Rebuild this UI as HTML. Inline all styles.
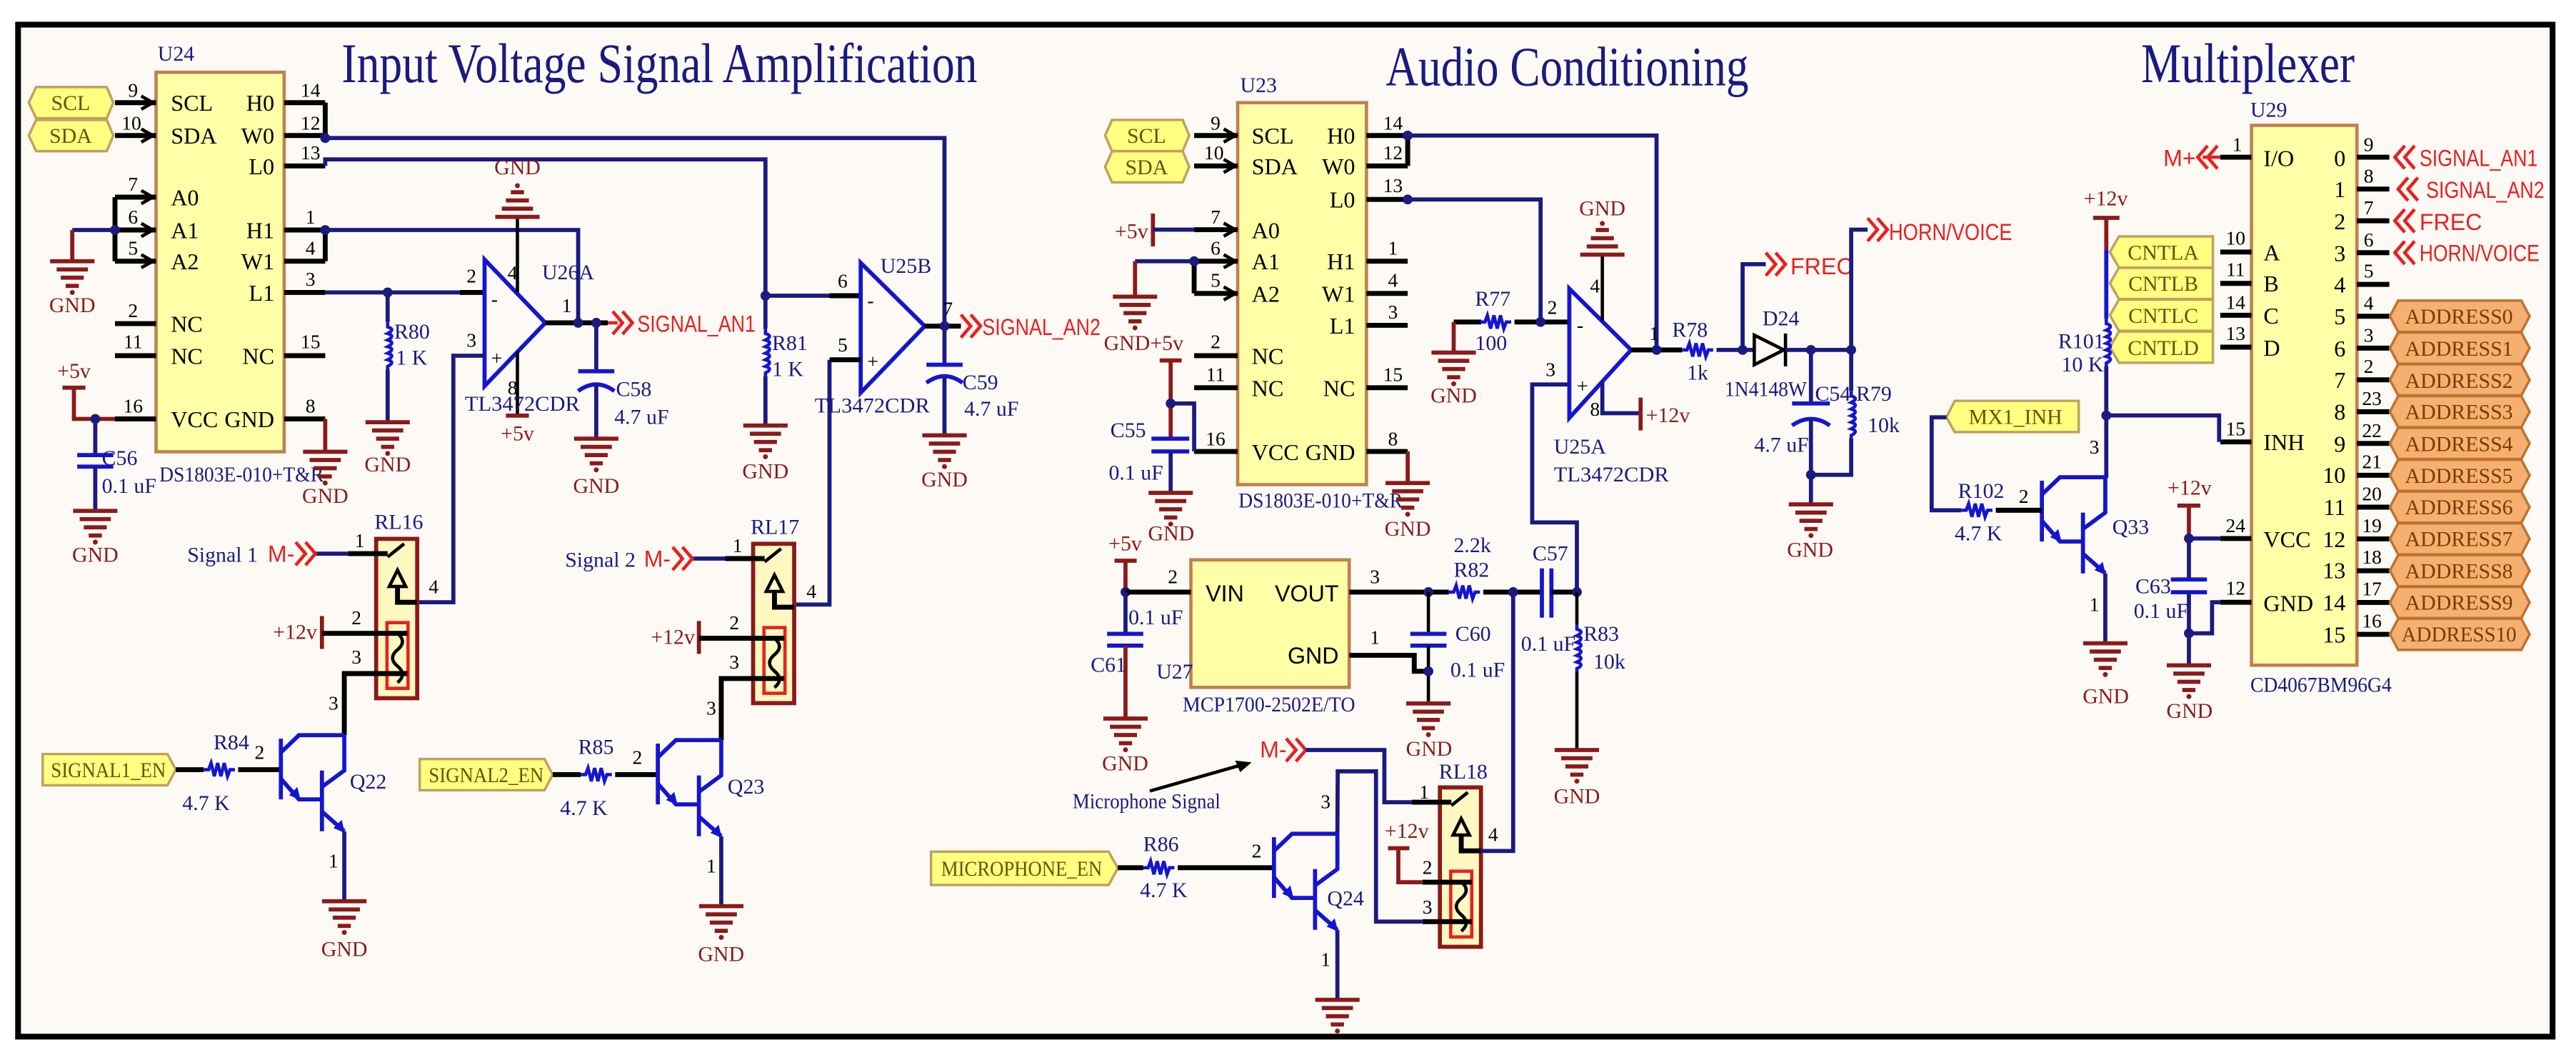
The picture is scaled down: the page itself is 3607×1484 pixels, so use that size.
<!DOCTYPE html>
<html><head><meta charset="utf-8"><style>
html,body{margin:0;padding:0;background:#fff}
svg{display:block}
text{font-family:"Liberation Serif",serif}
.t{fill:#1a1a80;font-size:13px}
.r{fill:#8b1a1a;font-size:13px}
.pn{fill:#000;font-size:12px}
.nm{fill:#000;font-size:14px;font-family:"Liberation Sans",sans-serif}
.rd{fill:#e82020;font-size:14px;font-family:"Liberation Sans",sans-serif}
.pt{fill:#6a5000;font-size:13px}
.ti{fill:#1a1a80;font-size:34px}
.w{stroke:#1a1a80;stroke-width:2.5;fill:none}
.p{stroke:#000;stroke-width:3;fill:none}
.k{stroke:#000;stroke-width:2;fill:none}
.dr{stroke:#8b1a1a;stroke-width:2.5;fill:none}
.b{stroke:#1515d0;stroke-width:2.5;fill:none}
.rl{stroke:#e82020;stroke-width:2;fill:none}
.chip{fill:#ffffa8;stroke:#c08050;stroke-width:2}
.port{fill:#ffff80;stroke:#c0a060;stroke-width:1.5}
.addr{fill:#f4b070;stroke:#c07030;stroke-width:1.5}
</style></head><body>
<svg width="3607" height="1484" viewBox="0 0 1568.26 645.22" preserveAspectRatio="none" xmlns="http://www.w3.org/2000/svg">
<defs>
<g id="gnd"><g stroke="#8b1a1a" stroke-width="2.5"><line x1="-13.5" y1="0" x2="13.5" y2="0"/><line x1="-9.5" y1="5" x2="9.5" y2="5"/><line x1="-7" y1="10" x2="7" y2="10"/><line x1="-4" y1="15" x2="4" y2="15"/></g><circle cx="0" cy="19" r="1.5" fill="#8b1a1a"/></g>
<g id="rv"><path d="M0 0 v3 q5 1.5 0 4 q5 1.5 0 4 q5 1.5 0 4 q5 1.5 0 4 q5 1.5 0 4 q5 1.5 0 4 v3" stroke="#1515d0" stroke-width="2" fill="none"/></g>
<g id="rh"><path d="M0 0 h3 l1.5 -4 l2 8 l2 -8 l2 8 l2 -8 l2 8 l1.5 -4 h3" stroke="#1515d0" stroke-width="2" fill="none"/></g>
<g id="chev"><polyline points="0,-7 6,0 0,7" class="rl"/><polyline points="6,-7 12,0 6,7" class="rl"/></g>
<g id="dot"><circle r="3" fill="#1a1a80"/></g>
<g id="relay">
<rect x="0" y="0" width="25" height="97" fill="#fff8c0" stroke="#8b1a1a" stroke-width="2.5"/>
<line x1="-17" y1="9" x2="7" y2="9" class="p"/>
<line x1="7" y1="11" x2="17" y2="3" class="k"/>
<polygon points="8,29 18,29 13,19" fill="none" stroke="#000" stroke-width="2"/>
<polyline points="13,29 13,38.6 25,38.6" class="p"/>
<rect x="6.6" y="51" width="12.8" height="40" class="rl" stroke-width="2.5"/>
<path d="M13 57.5 q6 5 0 10 M13 67.5 q-6 5 0 10 M13 77.5 q6 5 0 10" class="k" stroke-width="1.5"/>
</g>
<g id="tr">
<line x1="171" y1="449.6" x2="171" y2="486.6" class="b" stroke-width="3"/>
<polyline points="171,458 182,447.5 209.6,447.5" class="b"/>
<polyline points="171,474 182,486.6 196,486.6" class="b"/>
<polygon points="183,487 176,484 181,479" fill="#1515d0"/>
<line x1="196" y1="469" x2="196" y2="506" class="b" stroke-width="3"/>
<polyline points="196,479 209.6,469 209.6,447.5" class="b"/>
<line x1="196" y1="494" x2="209.6" y2="506" class="b"/>
<polygon points="210,507 203,504 208,499" fill="#1515d0"/>
<line x1="209.6" y1="506" x2="209.6" y2="548.6" class="w"/>
<use href="#gnd" x="209.6" y="548.6"/>
</g>
<g id="rt1">
<line x1="192" y1="337" x2="212" y2="337" class="w"/>
<use href="#chev" x="180" y="337"/>
<use href="#relay" x="229" y="328"/>
<line x1="196" y1="375" x2="196" y2="395" class="dr" stroke-width="3"/>
<line x1="196" y1="385.5" x2="248" y2="385.5" class="p"/>
<polyline points="209.6,447.5 209.6,410 248,410" class="p"/>
<polygon points="26,459 102,459 107,468.5 102,478 26,478" class="port"/>
<line x1="107" y1="468.5" x2="124" y2="468.5" class="p"/>
<use href="#rh" x="124" y="468.5"/>
<line x1="145" y1="468.5" x2="171" y2="468.5" class="p"/>
<use href="#tr"/>
</g>
</defs>

<rect x="11" y="15" width="1543" height="616" fill="#fdfaf5" stroke="#000" stroke-width="3.5"/>

<text x="208" y="50" class="ti" textLength="387" lengthAdjust="spacingAndGlyphs">Input Voltage Signal Amplification</text>
<text x="843.6" y="52" class="ti" textLength="221" lengthAdjust="spacingAndGlyphs">Audio Conditioning</text>
<text x="1303.5" y="50" class="ti" textLength="130" lengthAdjust="spacingAndGlyphs">Multiplexer</text>

<!-- ===== Section 1: U24 ===== -->
<rect x="95" y="44" width="78" height="231" class="chip"/>
<text x="96" y="37" class="t" font-size="12">U24</text>
<g class="p">
<line x1="70" y1="62.5" x2="95" y2="62.5"/><line x1="70" y1="82.5" x2="95" y2="82.5"/>
<line x1="70" y1="120" x2="95" y2="120"/><line x1="70" y1="140" x2="95" y2="140"/><line x1="70" y1="159" x2="95" y2="159"/>
<line x1="70" y1="197" x2="95" y2="197"/><line x1="70" y1="216.5" x2="95" y2="216.5"/><line x1="70" y1="255" x2="95" y2="255"/>
<line x1="173" y1="62.5" x2="198" y2="62.5"/><line x1="173" y1="82.5" x2="198" y2="82.5"/><line x1="173" y1="101" x2="198" y2="101"/>
<line x1="173" y1="140" x2="198" y2="140"/><line x1="173" y1="159" x2="198" y2="159"/><line x1="173" y1="178" x2="198" y2="178"/>
<line x1="173" y1="216.5" x2="198" y2="216.5"/><line x1="173" y1="255" x2="198" y2="255"/>
<line x1="198" y1="62.5" x2="198" y2="82.5"/><line x1="198" y1="140" x2="198" y2="159"/>
<line x1="70" y1="120" x2="70" y2="159"/>
</g>
<g class="k" stroke-width="1.3"><polyline points="86,58.5 93,62.5 86,66.5"/><polyline points="86,78.5 93,82.5 86,86.5"/><polyline points="86,116 93,120 86,124"/><polyline points="86,136 93,140 86,144"/><polyline points="86,155 93,159 86,163"/></g>
<g class="nm"><text x="104" y="67.5">SCL</text><text x="104" y="87.5">SDA</text><text x="104" y="125">A0</text><text x="104" y="145">A1</text><text x="104" y="164">A2</text><text x="104" y="202">NC</text><text x="104" y="221.5">NC</text><text x="104" y="260">VCC</text></g>
<g class="nm" text-anchor="end"><text x="167" y="67.5">H0</text><text x="167" y="87.5">W0</text><text x="167" y="106">L0</text><text x="167" y="145">H1</text><text x="167" y="164">W1</text><text x="167" y="183">L1</text><text x="167" y="221.5">NC</text><text x="167" y="260">GND</text></g>
<g class="pn" text-anchor="middle"><text x="81" y="59">9</text><text x="80" y="79">10</text><text x="81" y="116">7</text><text x="81" y="136">6</text><text x="81" y="155">5</text><text x="81" y="193">2</text><text x="81" y="212">11</text><text x="81" y="251">16</text>
<text x="189" y="59">14</text><text x="189" y="79">12</text><text x="189" y="97">13</text><text x="189" y="136">1</text><text x="189" y="155">4</text><text x="189" y="174">3</text><text x="189" y="212">15</text><text x="189" y="251">8</text></g>
<polygon points="17.5,62.5 22,53 65,53 69,62.5 65,72 22,72" class="port"/>
<polygon points="17.5,82.5 22,73 65,73 69,82.5 65,92 22,92" class="port"/>
<text x="43" y="67" class="pt" text-anchor="middle">SCL</text><text x="43" y="87" class="pt" text-anchor="middle">SDA</text>
<text x="97" y="293" class="t" font-size="12" textLength="100" lengthAdjust="spacingAndGlyphs">DS1803E-010+T&amp;R</text>

<polyline points="198,84 575,84 575,198" class="w"/>
<polyline points="198,101 198,97 466,97 466,200" class="w"/>
<use href="#rv" x="466" y="200"/>
<line x1="466" y1="229" x2="466" y2="259" class="w"/>
<use href="#gnd" x="466" y="259"/>
<polyline points="466,180 505,180" class="w"/><line x1="505" y1="180" x2="524" y2="180" class="p"/>
<use href="#dot" x="466" y="180"/>
<polyline points="70,140 44,140" class="w"/><line x1="44" y1="140" x2="44" y2="159" class="dr"/>
<use href="#gnd" x="44" y="159"/><text x="44" y="190" class="r" text-anchor="middle">GND</text>
<use href="#dot" x="70" y="140"/>
<use href="#dot" x="198" y="84"/><use href="#dot" x="198" y="140"/>
<polyline points="198,140 352,140 352,196" class="w"/>
<line x1="198" y1="178" x2="280" y2="178" class="w"/><line x1="280" y1="178" x2="295" y2="178" class="p"/>
<use href="#dot" x="236" y="178"/>
<line x1="236" y1="178" x2="236" y2="196" class="w"/><use href="#rv" x="236" y="196"/><line x1="236" y1="225" x2="236" y2="257" class="w"/>
<use href="#gnd" x="236" y="257"/><text x="236" y="287" class="r" text-anchor="middle">GND</text>
<text x="240" y="206" class="t">R80</text><text x="241" y="222" class="t">1 K</text>
<polygon points="295,158 295,235 332,196.5" class="b" fill="none"/>
<text x="299" y="186" class="pn" font-size="14">-</text><text x="299" y="222" class="pn" font-size="14">+</text>
<polyline points="315,178 315,132" class="k"/>
<g stroke="#8b1a1a" stroke-width="2.5"><line x1="301.5" y1="132" x2="328.5" y2="132"/><line x1="305.5" y1="127" x2="324.5" y2="127"/><line x1="308" y1="122" x2="322" y2="122"/><line x1="311" y1="117" x2="319" y2="117"/></g>
<circle cx="315" cy="113" r="1.5" fill="#8b1a1a"/>
<text x="315" y="106" class="r" text-anchor="middle">GND</text>
<polyline points="315,214 315,253" class="k"/><line x1="308" y1="253" x2="322" y2="253" class="dr" stroke-width="3"/>
<text x="315" y="268" class="r" text-anchor="middle">+5v</text>
<text x="284" y="172" class="pn">2</text><text x="284" y="211" class="pn">3</text><text x="342" y="190" class="pn">1</text><text x="309" y="170" class="pn" font-size="10">4</text><text x="309" y="240" class="pn" font-size="10">8</text>
<text x="330" y="170" class="t">U26A</text><text x="283" y="250" class="t" textLength="70" lengthAdjust="spacingAndGlyphs">TL3472CDR</text>
<line x1="332" y1="196.5" x2="370" y2="196.5" class="p"/>
<use href="#dot" x="352" y="196.5"/><use href="#dot" x="363" y="196.5"/>
<line x1="370" y1="196.5" x2="376" y2="196.5" class="rl"/>
<use href="#chev" x="373" y="196.5"/><text x="388" y="202" class="rd" textLength="72" lengthAdjust="spacingAndGlyphs">SIGNAL_AN1</text>
<line x1="363" y1="196.5" x2="363" y2="226" class="w"/>
<line x1="352" y1="226" x2="374" y2="226" class="b" stroke-width="3"/>
<path d="M352 238 q11 -8 22 0" class="b" stroke-width="3"/>
<line x1="363" y1="234" x2="363" y2="267" class="w"/>
<use href="#gnd" x="363" y="267"/><text x="363" y="300" class="r" text-anchor="middle">GND</text>
<text x="375" y="241" class="t">C58</text><text x="374" y="258" class="t">4.7 uF</text>
<polyline points="295,216.5 276,216.5 276,366.6 254,366.6" class="w"/>
<polygon points="524,160 524,239 563,198.5" class="b" fill="none"/>
<text x="528" y="187" class="pn" font-size="14">-</text><text x="528" y="224" class="pn" font-size="14">+</text>
<text x="510" y="175" class="pn">6</text><text x="510" y="214" class="pn">5</text><text x="574" y="192" class="pn">7</text>
<text x="536" y="166" class="t">U25B</text><text x="496" y="251" class="t" textLength="70" lengthAdjust="spacingAndGlyphs">TL3472CDR</text>
<text x="470" y="213" class="t">R81</text><text x="470" y="229" class="t">1 K</text>
<text x="466" y="291" class="r" text-anchor="middle">GND</text>
<line x1="563" y1="198.5" x2="585" y2="198.5" class="p"/><use href="#dot" x="575" y="198.5"/>
<use href="#chev" x="585" y="198.5"/><text x="598" y="204" class="rd" textLength="72" lengthAdjust="spacingAndGlyphs">SIGNAL_AN2</text>
<line x1="575" y1="198.5" x2="575" y2="222" class="w"/>
<line x1="564" y1="222" x2="586" y2="222" class="b" stroke-width="3"/>
<path d="M564 233 q11 -8 22 0" class="b" stroke-width="3"/>
<line x1="575" y1="229" x2="575" y2="265" class="w"/>
<use href="#gnd" x="575" y="265"/><text x="575" y="296" class="r" text-anchor="middle">GND</text>
<text x="586" y="237" class="t">C59</text><text x="587" y="253" class="t">4.7 uF</text>
<polyline points="505,219 505,368 484,368" class="w"/><line x1="505" y1="219" x2="524" y2="219" class="p"/>
<polyline points="198,255 198,275" class="dr"/><use href="#gnd" x="198" y="275"/><text x="198" y="306" class="r" text-anchor="middle">GND</text>
<line x1="38" y1="236" x2="52" y2="236" class="dr" stroke-width="3"/><polyline points="45,236 45,255 70,255" class="dr"/>
<use href="#dot" x="58" y="255"/>
<text x="45" y="230" class="r" text-anchor="middle">+5v</text>
<line x1="58" y1="255" x2="58" y2="277" class="w"/>
<line x1="47" y1="277" x2="69" y2="277" class="b" stroke-width="3"/><line x1="47" y1="284" x2="69" y2="284" class="b" stroke-width="3"/>
<line x1="58" y1="284" x2="58" y2="311" class="w"/><use href="#gnd" x="58" y="311"/><text x="58" y="342" class="r" text-anchor="middle">GND</text>
<text x="62" y="283" class="t">C56</text><text x="62" y="300" class="t">0.1 uF</text>

<use href="#rt1"/>
<use href="#rt1" transform="translate(229.5,3)"/>
<text x="114" y="342" class="t">Signal 1</text><text x="163" y="342" class="rd" font-size="13">M-</text>
<text x="228" y="322" class="t">RL16</text>
<text x="216" y="333" class="pn">1</text><text x="261" y="361" class="pn">4</text><text x="214" y="380" class="pn">2</text><text x="214" y="404" class="pn">3</text>
<text x="193" y="389" class="r" text-anchor="end">+12v</text>
<text x="200" y="432" class="pn">3</text><text x="200" y="528" class="pn">1</text><text x="155" y="462" class="pn" font-size="14">2</text>
<text x="130" y="456" class="t">R84</text><text x="111" y="493" class="t">4.7 K</text>
<text x="213" y="480" class="t">Q22</text>
<text x="66" y="473" class="pt" text-anchor="middle" textLength="70" lengthAdjust="spacingAndGlyphs">SIGNAL1_EN</text>
<text x="209.6" y="582" class="r" text-anchor="middle">GND</text>
<text x="344" y="345" class="t">Signal 2</text><text x="392" y="345" class="rd" font-size="13">M-</text>
<text x="457" y="325" class="t">RL17</text>
<text x="446" y="336" class="pn">1</text><text x="491" y="364" class="pn">4</text><text x="444" y="383" class="pn">2</text><text x="444" y="407" class="pn">3</text>
<text x="423" y="392" class="r" text-anchor="end">+12v</text>
<text x="430" y="435" class="pn">3</text><text x="430" y="531" class="pn">1</text><text x="385" y="465" class="pn" font-size="14">2</text>
<text x="352" y="459" class="t">R85</text><text x="341" y="496" class="t">4.7 K</text>
<text x="443" y="483" class="t">Q23</text>
<text x="296" y="476" class="pt" text-anchor="middle" textLength="70" lengthAdjust="spacingAndGlyphs">SIGNAL2_EN</text>
<text x="439" y="585" class="r" text-anchor="middle">GND</text>

<!-- ===== Section 2: U23 ===== -->
<rect x="753.5" y="62.5" width="78.4" height="232.5" class="chip"/>
<text x="755" y="56" class="t" font-size="12">U23</text>
<g class="p">
<line x1="727" y1="82.5" x2="753.5" y2="82.5"/><line x1="727" y1="101" x2="753.5" y2="101"/>
<line x1="727" y1="139.8" x2="753.5" y2="139.8"/><line x1="727" y1="159" x2="753.5" y2="159"/><line x1="727" y1="178.6" x2="753.5" y2="178.6"/>
<line x1="727" y1="216.5" x2="753.5" y2="216.5"/><line x1="727" y1="236" x2="753.5" y2="236"/><line x1="727" y1="274.8" x2="753.5" y2="274.8"/>
<line x1="831.9" y1="82.5" x2="857" y2="82.5"/><line x1="831.9" y1="101" x2="857" y2="101"/><line x1="831.9" y1="121.4" x2="857" y2="121.4"/>
<line x1="831.9" y1="159" x2="857" y2="159"/><line x1="831.9" y1="178.6" x2="857" y2="178.6"/><line x1="831.9" y1="198" x2="857" y2="198"/>
<line x1="831.9" y1="236" x2="857" y2="236"/><line x1="831.9" y1="274.8" x2="857" y2="274.8"/>
<line x1="857" y1="82.5" x2="857" y2="101"/><line x1="727" y1="159" x2="727" y2="178.6"/>
</g>
<g class="k" stroke-width="1.3"><polyline points="745,78.5 752,82.5 745,86.5"/><polyline points="745,97 752,101 745,105"/><polyline points="745,135.8 752,139.8 745,143.8"/><polyline points="745,155 752,159 745,163"/><polyline points="745,174.6 752,178.6 745,182.6"/></g>
<g class="nm"><text x="762" y="87.5">SCL</text><text x="762" y="106">SDA</text><text x="762" y="145">A0</text><text x="762" y="164">A1</text><text x="762" y="183.6">A2</text><text x="762" y="221.5">NC</text><text x="762" y="241">NC</text><text x="762" y="280">VCC</text></g>
<g class="nm" text-anchor="end"><text x="825" y="87.5">H0</text><text x="825" y="106">W0</text><text x="825" y="126.4">L0</text><text x="825" y="164">H1</text><text x="825" y="183.6">W1</text><text x="825" y="203">L1</text><text x="825" y="241">NC</text><text x="825" y="280">GND</text></g>
<g class="pn" text-anchor="middle"><text x="740" y="79">9</text><text x="739" y="97">10</text><text x="740" y="136">7</text><text x="740" y="155">6</text><text x="740" y="174.6">5</text><text x="740" y="212">2</text><text x="740" y="232">11</text><text x="740" y="271">16</text>
<text x="848" y="79">14</text><text x="848" y="97">12</text><text x="848" y="117">13</text><text x="848" y="155">1</text><text x="848" y="174.6">4</text><text x="848" y="194">3</text><text x="848" y="232">15</text><text x="848" y="271">8</text></g>
<polygon points="672.8,82.5 677,73 720,73 724,82.5 720,92 677,92" class="port"/>
<polygon points="672.8,101.5 677,92 720,92 724,101.5 720,111 677,111" class="port"/>
<text x="698" y="87" class="pt" text-anchor="middle">SCL</text><text x="698" y="106" class="pt" text-anchor="middle">SDA</text>
<text x="754" y="309" class="t" font-size="12" textLength="100" lengthAdjust="spacingAndGlyphs">DS1803E-010+T&amp;R</text>
<use href="#dot" x="857" y="82.5"/><polyline points="857,82.5 1008.5,82.5 1008.5,213" class="w"/>
<use href="#dot" x="857" y="121.4"/><polyline points="857,121.4 937.9,121.4 937.9,196" class="w"/>
<line x1="701.9" y1="130" x2="701.9" y2="150" class="dr" stroke-width="3"/><line x1="701.9" y1="139.8" x2="727" y2="139.8" class="w"/>
<text x="699" y="145" class="r" text-anchor="end">+5v</text>
<use href="#dot" x="727" y="159"/><polyline points="727,159 691,159" class="w"/><line x1="691" y1="159" x2="691" y2="180.6" class="dr"/>
<use href="#gnd" x="691" y="180.6"/>
<text x="672" y="213" class="r">GND+5v</text>
<line x1="706" y1="219.4" x2="719.4" y2="219.4" class="dr" stroke-width="3"/>
<line x1="712.7" y1="219.4" x2="712.7" y2="267" class="dr"/>
<use href="#dot" x="712.7" y="245.6"/><polyline points="712.7,245.6 727,245.6 727,274.8" class="w"/>
<line x1="701" y1="267" x2="724" y2="267" class="b" stroke-width="3"/><line x1="701" y1="274.8" x2="724" y2="274.8" class="b" stroke-width="3"/>
<line x1="712.7" y1="274.8" x2="712.7" y2="300" class="w"/><use href="#gnd" x="712.7" y="300"/>
<text x="713" y="329" class="r" text-anchor="middle">GND</text>
<text x="676" y="266" class="t">C55</text><text x="675" y="292" class="t">0.1 uF</text>
<line x1="857" y1="274.8" x2="857" y2="294" class="dr"/><use href="#gnd" x="857" y="294"/>
<text x="857" y="326" class="r" text-anchor="middle">GND</text>
<line x1="885" y1="196" x2="901.8" y2="196" class="p"/><use href="#rh" x="901" y="196"/>
<line x1="922" y1="196" x2="955.4" y2="196" class="p"/><use href="#dot" x="937.9" y="196"/>
<line x1="885" y1="196" x2="885" y2="214.6" class="dr"/><use href="#gnd" x="885" y="214.6"/>
<text x="885" y="245" class="r" text-anchor="middle">GND</text>
<text x="898" y="186" class="t">R77</text><text x="898" y="213" class="t">100</text>
<polygon points="955.4,175.7 955.4,254.4 993,213" class="b" fill="none"/>
<text x="960" y="202" class="pn" font-size="14">-</text><text x="960" y="239" class="pn" font-size="14">+</text>
<text x="942" y="191" class="pn">2</text><text x="941" y="229" class="pn">3</text><text x="1004" y="207" class="pn">1</text><text x="968" y="178" class="pn" font-size="10">4</text><text x="968" y="253" class="pn" font-size="10">8</text>
<line x1="975.5" y1="195" x2="975.5" y2="155" class="k"/>
<g stroke="#8b1a1a" stroke-width="2.5"><line x1="962" y1="155" x2="989" y2="155"/><line x1="966" y1="150" x2="985" y2="150"/><line x1="968.5" y1="145" x2="982.5" y2="145"/><line x1="971.5" y1="140" x2="979.5" y2="140"/></g>
<circle cx="975.5" cy="136" r="1.5" fill="#8b1a1a"/>
<text x="975.5" y="131" class="r" text-anchor="middle">GND</text>
<polyline points="975.5,233 975.5,251.5 998.8,251.5" class="w"/><line x1="998.8" y1="242" x2="998.8" y2="262" class="dr" stroke-width="3"/>
<text x="1002" y="257" class="r">+12v</text>
<text x="946" y="276" class="t">U25A</text><text x="946" y="293" class="t" textLength="70" lengthAdjust="spacingAndGlyphs">TL3472CDR</text>
<polyline points="955.4,234 932.8,234 932.8,318 960,318 960,360.4" class="w"/>
<line x1="993" y1="213" x2="1024" y2="213" class="p"/><use href="#dot" x="1008.5" y="213"/>
<use href="#rh" x="1024" y="213"/>
<line x1="1045" y1="213" x2="1068" y2="213" class="w"/><use href="#dot" x="1060.9" y="213"/>
<polyline points="1060.9,213 1060.9,160.8 1075,160.8" class="w"/>
<use href="#chev" x="1075" y="160.8"/><text x="1090" y="167" class="rd">FREC</text>
<polygon points="1068,204 1068,222 1086,213" fill="none" stroke="#000" stroke-width="2"/>
<line x1="1087" y1="203" x2="1087" y2="223" class="k" stroke-width="2.5"/>
<line x1="1087" y1="213" x2="1127" y2="213" class="w"/>
<use href="#dot" x="1102.5" y="213"/><use href="#dot" x="1127" y="213"/>
<polyline points="1127,213 1127,139.8 1137,139.8" class="w"/>
<use href="#chev" x="1137" y="139.8"/><text x="1150" y="146" class="rd" textLength="75" lengthAdjust="spacingAndGlyphs">HORN/VOICE</text>
<line x1="1102.5" y1="213" x2="1102.5" y2="245.6" class="w"/>
<line x1="1091" y1="245.6" x2="1114" y2="245.6" class="b" stroke-width="3"/>
<path d="M1091 259 q11.5 -8 23 0" class="b" stroke-width="3"/>
<line x1="1102.5" y1="255" x2="1102.5" y2="307" class="w"/>
<line x1="1127" y1="213" x2="1127" y2="238" class="w"/><use href="#rv" x="1127" y="238"/>
<polyline points="1127,267 1127,289 1102.5,289" class="w"/><use href="#dot" x="1102.5" y="289"/>
<use href="#gnd" x="1102.5" y="307"/><text x="1102" y="339" class="r" text-anchor="middle">GND</text>
<text x="1018" y="205" class="t">R78</text><text x="1027" y="231" class="t">1k</text>
<text x="1073" y="198" class="t">D24</text><text x="1050" y="241" class="t" textLength="50" lengthAdjust="spacingAndGlyphs">1N4148W</text>
<text x="1105" y="244" class="t">C54</text><text x="1068" y="275" class="t">4.7 uF</text>
<text x="1130" y="244" class="t">R79</text><text x="1137" y="263" class="t">10k</text>
<rect x="725" y="340.8" width="96.4" height="77.6" class="chip"/>
<text x="734" y="366" class="nm">VIN</text><text x="815" y="366" class="nm" text-anchor="end">VOUT</text><text x="815" y="404" class="nm" text-anchor="end">GND</text>
<text x="711" y="355" class="pn">2</text><text x="834" y="355" class="pn">3</text><text x="834" y="392" class="pn">1</text>
<line x1="678.5" y1="341.3" x2="692" y2="341.3" class="dr" stroke-width="3"/>
<line x1="685.2" y1="341.3" x2="685.2" y2="360.4" class="dr"/>
<use href="#dot" x="685.2" y="360.4"/><line x1="685.2" y1="360.4" x2="725" y2="360.4" class="p"/>
<line x1="685.2" y1="360.4" x2="685.2" y2="385.8" class="w"/>
<line x1="674" y1="385.8" x2="696" y2="385.8" class="b" stroke-width="3"/><line x1="674" y1="393" x2="696" y2="393" class="b" stroke-width="3"/>
<line x1="685.2" y1="393" x2="685.2" y2="437.4" class="dr"/><use href="#gnd" x="685.2" y="437.4"/>
<text x="685" y="469" class="r" text-anchor="middle">GND</text>
<text x="685" y="335" class="r" text-anchor="middle">+5v</text>
<text x="664" y="409" class="t">C61</text><text x="687" y="380" class="t">0.1 uF</text>
<text x="704" y="413" class="t">U27</text><text x="720" y="433" class="t" font-size="12" textLength="105" lengthAdjust="spacingAndGlyphs">MCP1700-2502E/TO</text>
<line x1="821.4" y1="360.4" x2="882" y2="360.4" class="p"/><use href="#dot" x="869.6" y="360.4"/>
<use href="#rh" x="882" y="360.4"/>
<line x1="903" y1="360.4" x2="938.7" y2="360.4" class="p"/><use href="#dot" x="921.2" y="360.4"/>
<line x1="938.7" y1="346" x2="938.7" y2="376" class="b" stroke-width="3"/><line x1="944.5" y1="346" x2="944.5" y2="376" class="b" stroke-width="3"/>
<line x1="944.5" y1="360.4" x2="960" y2="360.4" class="p"/><use href="#dot" x="960" y="360.4"/>
<line x1="960" y1="360.4" x2="960" y2="380" class="k"/><use href="#rv" x="960" y="380"/>
<line x1="960" y1="409" x2="960" y2="456.5" class="k"/><use href="#gnd" x="960" y="456.5"/>
<text x="960" y="489" class="r" text-anchor="middle">GND</text>
<line x1="869.6" y1="360.4" x2="869.6" y2="385.8" class="k"/>
<line x1="858.6" y1="385.8" x2="880.6" y2="385.8" class="b" stroke-width="3"/><line x1="858.6" y1="393" x2="880.6" y2="393" class="b" stroke-width="3"/>
<polyline points="821.4,398.9 861,398.9 861,408.6 869.6,408.6" class="p"/>
<line x1="869.6" y1="393" x2="869.6" y2="428.2" class="k"/><use href="#dot" x="869.6" y="408.6"/>
<use href="#gnd" x="869.6" y="428.2"/><text x="870" y="460" class="r" text-anchor="middle">GND</text>
<text x="885" y="336" class="t">2.2k</text><text x="885" y="351" class="t">R82</text>
<text x="933" y="341" class="t">C57</text><text x="926" y="396" class="t">0.1 uF</text>
<text x="964" y="390" class="t">R83</text><text x="970" y="407" class="t">10k</text>
<text x="886" y="390" class="t">C60</text><text x="883" y="412" class="t">0.1 uF</text>
<text x="767" y="461" class="rd" font-size="13">M-</text><use href="#chev" x="783" y="456.5"/>
<polyline points="795,456.5 842.8,456.5 842.8,488.3 860,488.3" class="w"/>
<use href="#relay" x="876.6" y="479.3"/>
<polyline points="901.6,518 921.2,518 921.2,360.4" class="w"/>
<line x1="845" y1="516.3" x2="858" y2="516.3" class="dr" stroke-width="3"/>
<polyline points="851.3,516.3 851.3,537 866,537" class="dr"/><line x1="866" y1="537" x2="896" y2="537" class="p"/>
<polyline points="814.2,507.5 814.4,469.5 837.7,469.5 837.7,561 866,561" class="w"/><line x1="866" y1="561" x2="896" y2="561" class="p"/>
<text x="843" y="510" class="r">+12v</text>
<text x="876" y="474" class="t">RL18</text>
<text x="864" y="486" class="pn">1</text><text x="906" y="512" class="pn">4</text><text x="866" y="532" class="pn">2</text><text x="866" y="556" class="pn">3</text>
<line x1="700" y1="481.5" x2="758" y2="465" class="k" stroke-width="1.5"/><polygon points="762,464 752,463 755,470" fill="#000"/>
<text x="653" y="492" class="t" font-size="12" textLength="90" lengthAdjust="spacingAndGlyphs">Microphone Signal</text>
<polygon points="566.8,518.4 675,518.4 680.5,528.5 675,538.7 566.8,538.7" class="port"/>
<text x="622" y="533" class="pt" text-anchor="middle" textLength="98" lengthAdjust="spacingAndGlyphs">MICROPHONE_EN</text>
<line x1="680.5" y1="528.2" x2="696" y2="528.2" class="p"/><use href="#rh" x="696" y="528.2"/>
<line x1="717" y1="528.2" x2="775.6" y2="528.2" class="p"/>
<use href="#tr" transform="translate(604.6,60)"/>
<text x="696" y="518" class="t">R86</text><text x="694" y="546" class="t">4.7 K</text>
<text x="808" y="551" class="t">Q24</text>
<text x="762" y="522" class="pn" font-size="14">2</text><text x="804" y="492" class="pn">3</text><text x="804" y="588" class="pn">1</text>

<!-- ===== Section 3: U29 ===== -->
<rect x="1370.7" y="76.3" width="64.2" height="328.6" class="chip"/>
<text x="1370" y="71" class="t" font-size="12">U29</text>
<g class="p">
<line x1="1351.7" y1="95.7" x2="1370.7" y2="95.7"/><line x1="1351.7" y1="153.4" x2="1370.7" y2="153.4"/><line x1="1351.7" y1="172.5" x2="1370.7" y2="172.5"/><line x1="1351.7" y1="191.9" x2="1370.7" y2="191.9"/><line x1="1351.7" y1="211.3" x2="1370.7" y2="211.3"/><line x1="1351.7" y1="269" x2="1370.7" y2="269"/><line x1="1351.7" y1="327.8" x2="1370.7" y2="327.8"/><line x1="1351.7" y1="366.6" x2="1370.7" y2="366.6"/>
</g>
<g class="nm"><text x="1378" y="101">I/O</text><text x="1378" y="158.5">A</text><text x="1378" y="177.5">B</text><text x="1378" y="197">C</text><text x="1378" y="216.5">D</text><text x="1378" y="274">INH</text><text x="1378" y="333">VCC</text><text x="1378" y="372">GND</text></g>
<g class="pn" text-anchor="middle"><text x="1362" y="92">1</text><text x="1361" y="149">10</text><text x="1361" y="168">11</text><text x="1361" y="188">14</text><text x="1361" y="207">13</text><text x="1361" y="265">15</text><text x="1361" y="324">24</text><text x="1361" y="362">12</text></g>
<g class="p">
<line x1="1434.9" y1="95.7" x2="1454.6" y2="95.7"/><line x1="1434.9" y1="115.1" x2="1454.6" y2="115.1"/><line x1="1434.9" y1="134.4" x2="1454.6" y2="134.4"/><line x1="1434.9" y1="153.8" x2="1454.6" y2="153.8"/><line x1="1434.9" y1="173.1" x2="1454.6" y2="173.1"/><line x1="1434.9" y1="192.5" x2="1454.6" y2="192.5"/><line x1="1434.9" y1="211.9" x2="1454.6" y2="211.9"/><line x1="1434.9" y1="231.2" x2="1454.6" y2="231.2"/><line x1="1434.9" y1="250.6" x2="1454.6" y2="250.6"/><line x1="1434.9" y1="269.9" x2="1454.6" y2="269.9"/><line x1="1434.9" y1="289.3" x2="1454.6" y2="289.3"/><line x1="1434.9" y1="308.7" x2="1454.6" y2="308.7"/><line x1="1434.9" y1="328" x2="1454.6" y2="328"/><line x1="1434.9" y1="347.4" x2="1454.6" y2="347.4"/><line x1="1434.9" y1="366.7" x2="1454.6" y2="366.7"/><line x1="1434.9" y1="386.1" x2="1454.6" y2="386.1"/>
</g>
<g class="nm" text-anchor="end"><text x="1428" y="101">0</text><text x="1428" y="120">1</text><text x="1428" y="139.5">2</text><text x="1428" y="159">3</text><text x="1428" y="178">4</text><text x="1428" y="197.5">5</text><text x="1428" y="217">6</text><text x="1428" y="236">7</text><text x="1428" y="255.5">8</text><text x="1428" y="275">9</text><text x="1428" y="294">10</text><text x="1428" y="313.5">11</text><text x="1428" y="333">12</text><text x="1428" y="352">13</text><text x="1428" y="371.5">14</text><text x="1428" y="391">15</text></g>
<g class="pn" font-size="11"><text x="1439" y="92">9</text><text x="1439" y="111">8</text><text x="1439" y="130.5">7</text><text x="1439" y="150">6</text><text x="1439" y="169">5</text><text x="1439" y="188.5">4</text><text x="1439" y="208">3</text><text x="1439" y="227">2</text><text x="1438" y="246.5">23</text><text x="1438" y="266">22</text><text x="1438" y="285">21</text><text x="1438" y="304.5">20</text><text x="1438" y="324">19</text><text x="1438" y="343">18</text><text x="1438" y="362.5">17</text><text x="1438" y="382">16</text></g>
<text x="1370" y="421" class="t" font-size="12" textLength="86" lengthAdjust="spacingAndGlyphs">CD4067BM96G4</text>
<text x="1317" y="101" class="rd" font-size="13">M+</text>
<use href="#chev" transform="translate(1350,95.7) scale(-1,1)"/>
<line x1="1341" y1="95.7" x2="1351.7" y2="95.7" class="rl" stroke-width="2.5"/>
<use href="#chev" transform="translate(1470,95.7) scale(-1,1)"/>
<use href="#chev" transform="translate(1472,115.1) scale(-1,1)"/>
<use href="#chev" transform="translate(1470,134.4) scale(-1,1)"/>
<use href="#chev" transform="translate(1470,153.8) scale(-1,1)"/>
<text x="1473" y="101" class="rd" textLength="72" lengthAdjust="spacingAndGlyphs">SIGNAL_AN1</text><text x="1477" y="120.5" class="rd" textLength="72" lengthAdjust="spacingAndGlyphs">SIGNAL_AN2</text><text x="1473" y="140" class="rd">FREC</text><text x="1473" y="159" class="rd" textLength="73" lengthAdjust="spacingAndGlyphs">HORN/VOICE</text>
<g>
<polygon points="1455,192.5 1460,183 1535,183 1540,192.5 1535,202 1460,202" class="addr"/>
<polygon points="1455,211.9 1460,202.4 1535,202.4 1540,211.9 1535,221.4 1460,221.4" class="addr"/>
<polygon points="1455,231.2 1460,221.7 1535,221.7 1540,231.2 1535,240.7 1460,240.7" class="addr"/>
<polygon points="1455,250.6 1460,241.1 1535,241.1 1540,250.6 1535,260.1 1460,260.1" class="addr"/>
<polygon points="1455,269.9 1460,260.4 1535,260.4 1540,269.9 1535,279.4 1460,279.4" class="addr"/>
<polygon points="1455,289.3 1460,279.8 1535,279.8 1540,289.3 1535,298.8 1460,298.8" class="addr"/>
<polygon points="1455,308.7 1460,299.2 1535,299.2 1540,308.7 1535,318.2 1460,318.2" class="addr"/>
<polygon points="1455,328 1460,318.5 1535,318.5 1540,328 1535,337.5 1460,337.5" class="addr"/>
<polygon points="1455,347.4 1460,337.9 1535,337.9 1540,347.4 1535,356.9 1460,356.9" class="addr"/>
<polygon points="1455,366.7 1460,357.2 1535,357.2 1540,366.7 1535,376.2 1460,376.2" class="addr"/>
<polygon points="1455,386.1 1460,376.6 1535,376.6 1540,386.1 1535,395.6 1460,395.6" class="addr"/>
</g>
<g fill="#7a3a00" font-size="13" text-anchor="middle"><text x="1497" y="197">ADDRESS0</text><text x="1497" y="216.5">ADDRESS1</text><text x="1497" y="236">ADDRESS2</text><text x="1497" y="255">ADDRESS3</text><text x="1497" y="274.5">ADDRESS4</text><text x="1497" y="294">ADDRESS5</text><text x="1497" y="313">ADDRESS6</text><text x="1497" y="332.5">ADDRESS7</text><text x="1497" y="352">ADDRESS8</text><text x="1497" y="371">ADDRESS9</text><text x="1497" y="390.5" textLength="70" lengthAdjust="spacingAndGlyphs">ADDRESS10</text></g>
<polygon points="1284.5,153.4 1290,143.9 1347.2,143.9 1347.2,162.9 1290,162.9" class="port"/>
<polygon points="1284.5,172.5 1290,163 1347.2,163 1347.2,182 1290,182" class="port"/>
<polygon points="1284.5,191.9 1290,182.4 1347.2,182.4 1347.2,201.4 1290,201.4" class="port"/>
<polygon points="1284.5,211.3 1290,201.8 1347.2,201.8 1347.2,220.8 1290,220.8" class="port"/>
<g class="pt" text-anchor="middle"><text x="1317" y="158">CNTLA</text><text x="1317" y="177">CNTLB</text><text x="1317" y="196.5">CNTLC</text><text x="1317" y="216">CNTLD</text></g>
<line x1="1274.3" y1="132.6" x2="1290.3" y2="132.6" class="dr" stroke-width="3"/>
<text x="1282" y="125" class="r" text-anchor="middle">+12v</text>
<line x1="1282.3" y1="132.6" x2="1282.3" y2="152" class="dr"/>
<line x1="1282.3" y1="152" x2="1282.3" y2="194" class="b" stroke-width="2"/>
<use href="#rv" x="1282.3" y="194"/>
<line x1="1282.3" y1="223" x2="1282.3" y2="291" class="w"/>
<use href="#dot" x="1282.3" y="252.9"/>
<polyline points="1282.3,252.9 1351,252.9 1351,269" class="w"/>
<text x="1253" y="212" class="t">R101</text><text x="1255" y="226" class="t">10 K</text>
<use href="#tr" transform="translate(1072.1,-157)"/>
<text x="1286" y="325" class="t">Q33</text>
<text x="1272" y="276" class="pn">3</text><text x="1272" y="372" class="pn">1</text><text x="1229" y="306" class="pn" font-size="14">2</text>
<text x="1282" y="428" class="r" text-anchor="middle">GND</text>
<polygon points="1185,254 1190,244 1265.5,244 1265.5,263 1190,263" class="port"/>
<text x="1227" y="258" class="pt" text-anchor="middle">MX1_INH</text>
<polyline points="1185,254 1176,254 1176,310.6 1194,310.6" class="w"/>
<use href="#rh" x="1194" y="310.6"/>
<line x1="1215" y1="310.6" x2="1243" y2="310.6" class="p"/>
<text x="1192" y="303" class="t">R102</text><text x="1190" y="329" class="t">4.7 K</text>
<line x1="1325.6" y1="307.8" x2="1339.6" y2="307.8" class="dr" stroke-width="3"/>
<text x="1333" y="301" class="r" text-anchor="middle">+12v</text>
<line x1="1332.6" y1="307.8" x2="1332.6" y2="327.8" class="dr"/>
<line x1="1332.6" y1="327.8" x2="1332.6" y2="352.7" class="w"/>
<use href="#dot" x="1332.6" y="327.8"/><line x1="1332.6" y1="327.8" x2="1351.7" y2="327.8" class="w"/>
<line x1="1321.6" y1="352.7" x2="1343.6" y2="352.7" class="b" stroke-width="3"/><line x1="1321.6" y1="360.5" x2="1343.6" y2="360.5" class="b" stroke-width="3"/>
<line x1="1332.6" y1="360.5" x2="1332.6" y2="405" class="w"/>
<use href="#dot" x="1332.6" y="385.5"/><polyline points="1332.6,385.5 1346.7,385.5 1346.7,366.6 1351.7,366.6" class="w"/>
<use href="#gnd" x="1332.6" y="405"/><text x="1333" y="437" class="r" text-anchor="middle">GND</text>
<text x="1300" y="361" class="t">C63</text><text x="1299" y="376" class="t">0.1 uF</text>
</svg>
</body></html>
